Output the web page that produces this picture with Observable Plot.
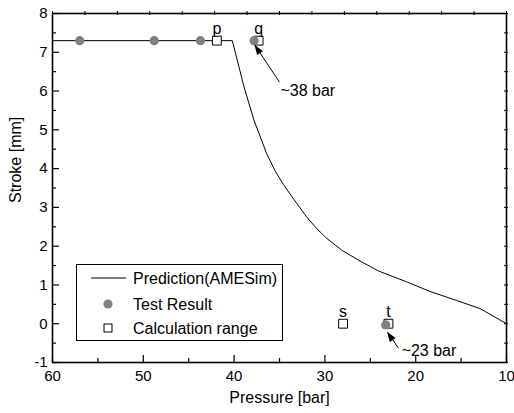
<!DOCTYPE html>
<html><head><meta charset="utf-8">
<script src="https://cdn.jsdelivr.net/npm/d3@7"></script>
<script src="https://cdn.jsdelivr.net/npm/@observablehq/plot@0.6"></script>
<style>body{margin:0;background:#fff} #chart svg{display:block}</style>
</head><body><div id="chart"></div>
<script>
// Prediction (AMESim) curve
const predPressure = [60, 40.2, 39.6, 38.9, 37.8, 36.4, 35.5, 34.6, 33.4, 32.0, 31.0, 29.9, 28.1, 26.0, 24.1, 21.0, 18.4, 15.5, 12.9, 10.0];
const predStroke   = [7.3, 7.3, 6.75, 6.1, 5.24, 4.38, 3.95, 3.6, 3.2, 2.75, 2.48, 2.22, 1.89, 1.6, 1.36, 1.08, 0.83, 0.6, 0.39, 0.0];
// Test results
const testPressure = [57.0, 48.8, 43.7, 37.8, 23.3];
const testStroke   = [7.3, 7.3, 7.3, 7.3, -0.03];
// Calculation range points
const calcPressure = [41.9, 37.3, 28.0, 23.0];
const calcStroke   = [7.3, 7.3, 0.0, 0.0];
const calcLabels   = ["p", "q", "s", "t"];
// Annotations
const noteText   = ["~38 bar", "~23 bar"];
const noteX      = [34.9, 21.55];
const noteY      = [6.0, -0.69];
const arrowX1    = [35.0, 21.9];
const arrowY1    = [6.23, -0.63];
const arrowX2    = [37.7, 23.1];
const arrowY2    = [7.18, -0.22];
// Ticks
const xMajor = [60, 50, 40, 30, 20, 10];
const xMinor = [55, 45, 35, 25, 15];
const yMajor = [-1, 0, 1, 2, 3, 4, 5, 6, 7, 8];
const yMinor = [-0.5, 0.5, 1.5, 2.5, 3.5, 4.5, 5.5, 6.5, 7.5];
const topTicks = d3.range(0, 15).map(k => 60 - k * 50 / 14);
const xTitle = "Pressure [bar]";
const yTitle = "Stroke [mm]";
const legendLabels = ["Prediction(AMESim)", "Test Result", "Calculation range"];

const W = 514, H = 413, mT = 13, mR = 8, mB = 51, mL = 52;
const plotW = W - mL - mR, plotH = H - mT - mB;
const font = "Arial, 'Liberation Sans', sans-serif";

const pred = predPressure.map((p, i) => ({p, s: predStroke[i]}));
const test = testPressure.map((p, i) => ({p, s: testStroke[i]}));
const calc = calcPressure.map((p, i) => ({p, s: calcStroke[i], label: calcLabels[i]}));
const notes = noteText.map((t, i) => ({t, x: noteX[i], y: noteY[i], x1: arrowX1[i], y1: arrowY1[i], x2: arrowX2[i], y2: arrowY2[i]}));

const chart = Plot.plot({
  width: W, height: H, marginTop: mT, marginRight: mR, marginBottom: mB, marginLeft: mL,
  x: {domain: [60, 10]},
  y: {domain: [-1, 8]},
  style: {fontFamily: font, fontSize: "15px", color: "black", background: "white"},
  marks: [
    Plot.ruleX(xMajor, {insetTop: plotH - 7, stroke: "black", strokeWidth: 1.2}),
    Plot.ruleX(xMinor, {insetTop: plotH - 4, stroke: "black", strokeWidth: 1.2}),
    Plot.ruleY(yMajor, {insetRight: plotW - 7, stroke: "black", strokeWidth: 1.2}),
    Plot.ruleY(yMinor, {insetRight: plotW - 4, stroke: "black", strokeWidth: 1.2}),
    Plot.ruleX(topTicks, {insetBottom: plotH - 2, insetTop: -2, stroke: "black", strokeWidth: 1}),
    Plot.ruleY(yMajor.concat(yMinor), {insetLeft: plotW - 2, insetRight: -2, stroke: "black", strokeWidth: 1}),
    Plot.frame({stroke: "black", strokeWidth: 1.6}),
    Plot.line(pred, {x: "p", y: "s", stroke: "black", strokeWidth: 1}),
    Plot.dot(calc, {x: "p", y: "s", symbol: "square", r: 5, fill: "white", stroke: "black", strokeWidth: 1}),
    Plot.dot(test, {x: "p", y: "s", r: 4.6, fill: "#808080", stroke: "none"}),
    Plot.text(calc, {x: "p", y: "s", text: "label", dy: -7, lineAnchor: "bottom", fontSize: 16}),
    Plot.link(notes, {x1: "x1", y1: "y1", x2: "x2", y2: "y2", stroke: "black", strokeWidth: 1}),
    Plot.text(notes, {x: "x", y: "y", text: "t", textAnchor: "start", fontSize: 16}),
    Plot.axisX(xMajor, {tickSize: 0, tickPadding: 8, label: null, tickFormat: d => d, fontSize: 15}),
    Plot.axisY(yMajor, {tickSize: 0, tickPadding: 5, label: null, tickFormat: d => d, fontSize: 15}),
    Plot.text([xTitle], {frameAnchor: "bottom", dy: 40, fontSize: 16}),
    Plot.text([yTitle], {frameAnchor: "left", dx: -37, dy: 15, rotate: -90, fontSize: 16})
  ]
});

document.getElementById("chart").appendChild(chart);

// Filled arrowheads via the plot's scales
const sx = chart.scale("x"), sy = chart.scale("y");
const svg = d3.select(chart);
notes.forEach(n => {
  const ax = sx.apply(n.x1), ay = sy.apply(n.y1), bx = sx.apply(n.x2), by = sy.apply(n.y2);
  const len = Math.hypot(bx - ax, by - ay), ux = (bx - ax) / len, uy = (by - ay) / len;
  const hl = 10, hw = 3.5;
  const px = bx - ux * hl, py = by - uy * hl;
  svg.append("polygon")
    .attr("points", [[bx, by], [px - uy * hw, py + ux * hw], [px + uy * hw, py - ux * hw]].map(p => p.join(",")).join(" "))
    .attr("fill", "black");
});

// Legend
const lg = svg.append("g").attr("font-family", font).attr("font-size", 16).attr("text-anchor", "start");
lg.append("rect").attr("x", 76.5).attr("y", 264.5).attr("width", 206).attr("height", 76)
  .attr("fill", "white").attr("stroke", "black").attr("stroke-width", 1);
lg.append("line").attr("x1", 91).attr("x2", 126).attr("y1", 278).attr("y2", 278).attr("stroke", "black");
lg.append("circle").attr("cx", 108).attr("cy", 304).attr("r", 4.6).attr("fill", "#808080");
lg.append("rect").attr("x", 104).attr("y", 324).attr("width", 8).attr("height", 8).attr("fill", "white").attr("stroke", "black");
const ys = [278, 304, 328];
legendLabels.forEach((t, i) => {
  lg.append("text").attr("x", 133).attr("y", ys[i]).attr("dy", "0.35em").attr("text-anchor", "start").text(t);
});
</script>
</body></html>
